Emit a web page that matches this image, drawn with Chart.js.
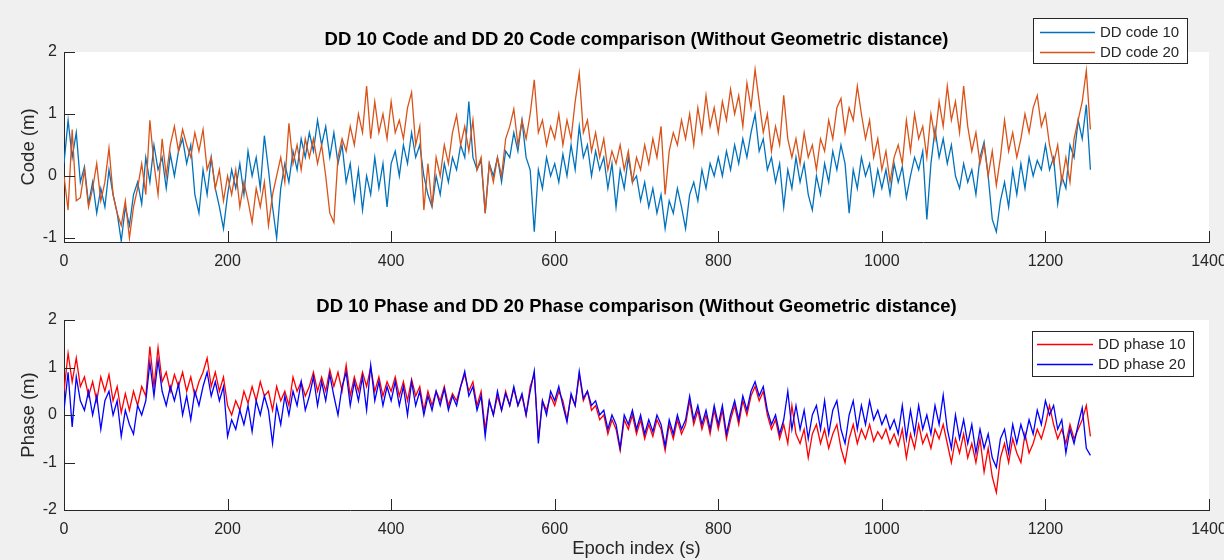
<!DOCTYPE html>
<html>
<head>
<meta charset="utf-8">
<script src="https://cdn.jsdelivr.net/npm/chart.js@4.4.1/dist/chart.umd.min.js"></script>
<style>
  html, body { margin: 0; padding: 0; background: #f0f0f0; }
  #wrap { position: relative; width: 1224px; height: 560px; overflow: hidden; }
  canvas { position: absolute; left: 0; }
  #codeChart { top: 0; }
  #phaseChart { top: 280px; }
</style>
</head>
<body>
<div id="wrap">
  <canvas id="codeChart" width="1224" height="280"></canvas>
  <canvas id="phaseChart" width="1224" height="280"></canvas>
</div>
<script>
// epoch spacing of the samples (s)
const STEP = 5;

// DD code 10 / DD code 20 (m), one value every STEP epochs
const code10 = [
  0.2, 0.9, 0.3, 0.7, -0.1, 0.15, -0.45, -0.1, -0.6, -0.2,
  -0.5, 0.1, -0.3, -0.6, -1.05, -0.5, -0.8, -0.3, -0.1, -0.45,
  0.3, -0.1, 0.5, 0.1, 0.3, -0.2, 0.35, 0.0, 0.4, 0.6,
  0.2, 0.5, -0.3, -0.6, 0.1, -0.3, 0.3, -0.2, -0.5, -0.85,
  -0.3, 0.1, -0.2, 0.2, -0.3, 0.4, 0.0, 0.3, -0.2, 0.65,
  0.1, -0.5, -1.0, -0.2, 0.2, -0.1, 0.4, 0.1, 0.6, 0.3,
  0.7, 0.4, 0.9, 0.5, 0.8, 0.3, 0.7, 0.2, 0.5, -0.1,
  0.2, -0.4, 0.1, -0.55, 0.0, -0.3, 0.3, -0.2, 0.2, -0.5,
  0.2, 0.4, 0.0, 0.5, 0.2, 0.7, 0.3, 0.5, 0.0, -0.3,
  -0.5, 0.0, -0.3, 0.2, -0.1, 0.3, 0.1, 0.5, 0.3, 1.2,
  0.3, 0.1, 0.25, -0.6, 0.2, 0.0, 0.3, -0.1, 0.4, 0.3,
  0.7, 0.4, 0.9, 0.3, 0.1, -0.9, 0.1, -0.2, 0.3, 0.0,
  0.2, -0.1, 0.35, 0.0, 0.5, 0.1, 0.8, 0.3, 0.5, 0.0,
  0.4, 0.1, 0.3, -0.2, 0.2, -0.5, 0.1, -0.2, 0.3, -0.1,
  0.0, -0.4, -0.1, -0.5, -0.2, -0.6, -0.3, -0.85, -0.4, -0.6,
  -0.2, -0.5, -0.85, -0.3, -0.1, -0.4, 0.1, -0.2, 0.2, 0.0,
  0.3, 0.0, 0.4, 0.1, 0.5, 0.2, 0.6, 0.3, 0.7, 1.0,
  0.4, 0.6, 0.1, 0.3, -0.1, 0.2, -0.5, 0.1, -0.2, 0.3,
  -0.1, 0.2, -0.3, -0.55, 0.0, -0.3, 0.2, -0.1, 0.4, 0.1,
  0.5, 0.2, -0.6, 0.1, -0.2, 0.3, 0.0, 0.2, -0.3, 0.1,
  -0.2, 0.1, -0.3, 0.2, -0.1, 0.15, -0.35, 0.0, 0.3, 0.1,
  0.4, -0.7, 0.2, 0.75, 0.3, 0.6, 0.2, 0.5, 0.0, -0.2,
  0.2, -0.1, 0.1, -0.3, 0.3, 0.55, 0.0, -0.7, -0.9, -0.4,
  -0.1, -0.5, 0.1, -0.3, 0.2, -0.2, 0.3, 0.0, 0.25, 0.1,
  0.5, 0.1, 0.3, -0.45, 0.0, -0.2, 0.5, 0.3, 0.9, 0.6,
  1.15, 0.1
];
const code20 = [
  0.0, -0.55, 0.75, -0.4, -0.35, 0.1, -0.5, -0.2, 0.2, -0.4,
  -0.1, 0.45, -0.3, -0.6, -0.8, -0.4, -1.0, -0.5, -0.2, 0.2,
  -0.3, 0.9, 0.2, -0.3, 0.6, 0.0, 0.5, 0.8, 0.4, 0.75,
  0.5, 0.3, 0.7, 0.4, 0.75, 0.1, 0.3, -0.2, 0.1, -0.4,
  0.0, -0.3, 0.1, -0.5, -0.1, -0.4, -0.75, -0.2, -0.5, -0.1,
  -0.8, -0.3, 0.0, 0.3, -0.1, 0.85, 0.2, 0.5, 0.1, 0.6,
  0.3, 0.6, 0.2, 0.5, 0.0, -0.6, -0.75, 0.3, 0.6, 0.4,
  0.8, 0.5, 1.0, 0.7, 1.45, 0.6, 1.2, 0.7, 1.0, 0.6,
  1.2, 0.7, 0.9, 0.6, 1.1, 1.35, 0.5, 0.8, -0.55, 0.2,
  -0.5, 0.3, 0.0, 0.5, 0.2, 0.7, 0.98, 0.5, 0.8, 0.4,
  0.9, 0.1, 0.3, -0.6, 0.2, -0.1, 0.3, 0.0, 0.6, 0.8,
  1.08, 0.5, 0.9, 0.6, 1.0, 1.55, 0.7, 0.9, 0.5, 0.8,
  0.6, 1.0, 0.5, 0.9, 0.6, 1.2, 1.66, 0.7, 0.9, 0.4,
  0.7, 0.3, 0.6, 0.1, 0.4, 0.2, 0.5, 0.1, 0.4, -0.1,
  0.3, 0.1, 0.5, 0.2, 0.6, 0.3, 0.8, -0.3, 0.4, 0.7,
  0.5, 0.9, 0.6, 1.0, 0.5, 1.1, 0.7, 1.3, 0.8, 1.1,
  0.7, 1.2, 0.9, 1.4, 1.0, 1.3, 0.8, 1.5, 1.1, 1.72,
  1.2, 0.7, 1.0, 0.4, 0.8, 0.5, 1.3, 0.6, 0.3, 0.6,
  0.2, 0.7, 0.3, 0.5, 0.1, 0.6, 0.4, 0.9, 0.6, 1.1,
  1.25, 0.7, 1.1, 0.9, 1.45, 1.0, 0.6, 0.9, 0.3, 0.6,
  0.1, 0.4, -0.1, 0.3, 0.5, 0.2, 0.9, 0.4, 1.0, 0.6,
  0.8, 0.3, 1.0, 0.6, 1.2, 0.8, 1.45, 0.9, 1.2, 0.7,
  1.45, 0.8, 0.4, 0.7, 0.2, 0.5, 0.0, 0.4, -0.15, 0.3,
  0.9, 0.4, 0.7, 0.3, 0.6, 1.0, 0.7, 1.1, 1.3, 0.8,
  1.0, 0.5, 0.2, 0.5, -0.1, 0.3, -0.1, 0.6, 0.9, 1.2,
  1.7, 0.75
];

// DD phase 10 / DD phase 20 (m)
const phase10 = [
  0.5, 1.3, 0.7, 1.2, 0.6, 0.8, 0.4, 0.7, 0.3, 0.8,
  0.5, 0.85, 0.3, 0.6, 0.05, 0.45, 0.1, 0.5, 0.2, 0.6,
  0.4, 1.44, 0.6, 1.42, 0.7, 0.9, 0.5, 0.85, 0.6, 0.9,
  0.5, 0.8, 0.4, 0.7, 0.9, 1.2, 0.6, 0.9, 0.5, 0.8,
  0.2, 0.0, 0.3, 0.1, 0.5, 0.25, 0.6, 0.3, 0.7, 0.4,
  0.5, 0.1, 0.6, 0.3, 0.5, 0.2, 0.8, 0.5, 0.7, 0.4,
  0.6, 0.9, 0.5, 0.8, 0.5, 0.95, 0.6, 0.9, 0.5, 1.05,
  0.4, 0.8, 0.5, 0.9, 0.6, 1.0, 0.5, 0.8, 0.4, 0.7,
  0.5, 0.8, 0.4, 0.7, 0.3, 0.75, 0.4, 0.6, 0.1, 0.5,
  0.2, 0.5, 0.3, 0.6, 0.2, 0.45, 0.3, 0.6, 0.85, 0.5,
  0.7, 0.2, 0.5, -0.3, 0.3, 0.0, 0.4, 0.1, 0.5, 0.2,
  0.55, 0.2, 0.4, 0.0, 0.6, 0.85, -0.5, 0.3, 0.1, 0.4,
  0.2, 0.5, 0.3, -0.1, 0.4, 0.2, 0.85, 0.3, 0.5, 0.1,
  0.2, -0.1, 0.0, -0.4, -0.1, -0.3, -0.75, -0.1, -0.3, 0.0,
  -0.4, -0.1, -0.5, -0.2, -0.45, -0.1, -0.3, -0.75, -0.2, -0.5,
  -0.1, -0.4, -0.2, 0.3, -0.2, 0.1, -0.3, 0.0, -0.4, 0.1,
  -0.3, 0.1, -0.5, -0.1, 0.2, -0.2, 0.3, 0.0, 0.4, 0.6,
  0.3, 0.5, 0.0, -0.3, -0.1, -0.5, -0.2, -0.6, 0.2, -0.4,
  -0.6, -0.3, -0.9, -0.4, -0.2, -0.6, -0.3, -0.7, -0.4, -0.2,
  -0.7, -1.0, -0.5, -0.2, -0.6, -0.3, -0.5, -0.2, -0.55, -0.35,
  -0.5, -0.3, -0.6, -0.4, -0.65, -0.3, -0.9, -0.4, -0.7, -0.2,
  -0.6, -0.4, -0.7, -0.3, -0.5, -0.2, -0.6, -1.0, -0.5, -0.8,
  -0.4, -0.9, -0.6, -1.0, -0.5, -1.2, -0.7, -1.3, -1.63, -0.9,
  -0.6, -1.0, -0.5, -0.8, -1.0, -0.4, -0.8, -0.6, -0.3, -0.5,
  -0.2, 0.2, -0.2, -0.5, -0.3, -0.6, -0.2, -0.5, -0.3, -0.1,
  0.2, -0.45
];
const phase20 = [
  0.1, 0.9, -0.25, 0.8, 0.3, 0.1, 0.5, 0.0, 0.4, -0.3,
  0.3, 0.5, 0.0, 0.3, -0.45, 0.1, -0.2, -0.4, 0.2, 0.0,
  0.3, 1.1, 0.4, 1.15, 0.5, 0.2, 0.6, 0.3, 0.65, 0.0,
  0.4, -0.1, 0.5, 0.2, 0.6, 0.9, 0.4, 0.7, 0.3, 0.6,
  -0.45, -0.1, -0.3, 0.1, -0.2, 0.2, -0.35, 0.3, 0.0, 0.4,
  0.1, -0.6, 0.2, -0.2, 0.4, 0.0, 0.5, 0.2, 0.7, 0.1,
  0.4, 0.8, 0.2, 0.7, 0.3, 0.85, 0.4, 0.0, 0.6, 0.9,
  0.2, 0.7, 0.3, 0.8, 0.1, 1.05, 0.3, 0.7, 0.2, 0.6,
  0.3, 0.7, 0.2, 0.6, 0.0, 0.7, 0.2, 0.5, 0.0, 0.4,
  0.1, 0.5, 0.2, 0.55, 0.1, 0.4, 0.2, 0.6, 0.92, 0.4,
  0.6, 0.1, 0.4, -0.45, 0.3, 0.0, 0.5, 0.1, 0.45, 0.2,
  0.6, 0.2, 0.45, 0.0, 0.5, 0.93, -0.6, 0.3, 0.0, 0.5,
  0.3, 0.6, 0.2, -0.15, 0.45, 0.2, 0.92, 0.35, 0.5, 0.2,
  0.3, 0.0, 0.1, -0.3, 0.0, -0.2, -0.7, 0.0, -0.2, 0.1,
  -0.3, 0.0, -0.4, -0.1, -0.35, 0.0, -0.2, -0.65, -0.1, -0.4,
  0.0, -0.3, -0.1, 0.4, -0.1, 0.2, -0.2, 0.1, -0.3, 0.2,
  -0.2, 0.2, -0.4, 0.0, 0.3, -0.1, 0.4, 0.1, 0.5, 0.7,
  0.4, 0.6, 0.1, -0.2, 0.0, -0.4, -0.1, 0.5, -0.3, 0.2,
  -0.3, 0.1, -0.5, 0.0, 0.2, -0.3, 0.3, -0.4, 0.1, 0.3,
  -0.3, -0.6, 0.0, 0.3, -0.3, 0.2, -0.2, 0.3, -0.1, 0.1,
  -0.2, 0.0, -0.3, -0.1, -0.4, 0.2, -0.5, 0.1, -0.4, 0.2,
  -0.3, 0.0, -0.4, 0.2, -0.2, 0.42, -0.3, -0.7, 0.0, -0.5,
  -0.1, -0.6, -0.2, -0.8, -0.3, -0.7, -0.4, -0.9, -1.1, -0.5,
  -0.3, -0.8, -0.2, -0.6, -0.2, -0.5, -0.1, -0.4, 0.1, -0.2,
  0.3, 0.0, 0.2, -0.3, -0.1, -0.8, -0.3, -0.6, -0.2, 0.15,
  -0.7, -0.85
];

const xTicks = [0, 200, 400, 600, 800, 1000, 1200, 1400];
const codeTicks = [-1, 0, 1, 2];
const phaseTicks = [-2, -1, 0, 1, 2];

const FONT = "'Liberation Sans', Arial, Helvetica, sans-serif";
const AXIS = '#262626';
const TEXT = '#262626';

const toPoints = arr => arr.map((v, i) => ({ x: i * STEP, y: v }));

// grey figure background + white axes area
const axesBg = {
  id: 'axesBg',
  beforeDraw(chart) {
    const { ctx, chartArea: a } = chart;
    ctx.save();
    ctx.fillStyle = '#f0f0f0';
    ctx.fillRect(0, 0, chart.width, chart.height);
    ctx.fillStyle = '#ffffff';
    ctx.fillRect(a.left, a.top, a.right - a.left, a.bottom - a.top);
    ctx.restore();
  }
};

// title centred over the axes (not over the whole canvas)
const axesTitle = {
  id: 'axesTitle',
  afterDraw(chart, args, opts) {
    const { ctx, chartArea: a } = chart;
    ctx.save();
    ctx.font = 'bold 18.5px ' + FONT;
    ctx.fillStyle = '#000000';
    ctx.textAlign = 'center';
    ctx.textBaseline = 'middle';
    ctx.fillText(opts.text, (a.left + a.right) / 2, opts.y);
    ctx.restore();
  }
};

// matlab style tick marks pointing into the axes
const innerTicks = {
  id: 'innerTicks',
  afterDraw(chart) {
    const { ctx, chartArea: a, scales } = chart;
    const len = 11;
    ctx.save();
    ctx.strokeStyle = AXIS;
    ctx.lineWidth = 1;
    ctx.beginPath();
    scales.x.ticks.forEach(t => {
      const px = Math.round(scales.x.getPixelForValue(t.value)) + 0.5;
      ctx.moveTo(px, a.bottom);
      ctx.lineTo(px, a.bottom - len);
    });
    scales.y.ticks.forEach(t => {
      const py = Math.round(scales.y.getPixelForValue(t.value)) + 0.5;
      ctx.moveTo(a.left, py);
      ctx.lineTo(a.left + len, py);
    });
    ctx.stroke();
    ctx.restore();
  }
};

// boxed legend at a fixed spot like the matlab one
const boxLegend = {
  id: 'boxLegend',
  afterDraw(chart, args, opts) {
    const { ctx } = chart;
    ctx.save();
    ctx.fillStyle = '#ffffff';
    ctx.fillRect(opts.x, opts.y, opts.w, opts.h);
    ctx.strokeStyle = AXIS;
    ctx.lineWidth = 1;
    ctx.strokeRect(opts.x + 0.5, opts.y + 0.5, opts.w, opts.h);
    ctx.font = '15px ' + FONT;
    ctx.textBaseline = 'middle';
    ctx.textAlign = 'left';
    chart.data.datasets.forEach((ds, i) => {
      const cy = opts.y + opts.first + i * opts.row + 0.5;
      ctx.strokeStyle = ds.borderColor;
      ctx.lineWidth = 1.3;
      ctx.beginPath();
      ctx.moveTo(opts.x + opts.pad, cy);
      ctx.lineTo(opts.x + opts.pad + opts.lineLen, cy);
      ctx.stroke();
      ctx.fillStyle = TEXT;
      ctx.fillText(ds.label, opts.x + opts.pad + opts.lineLen + 5, cy);
    });
    ctx.restore();
  }
};

function makeChart(id, cfg) {
  const ctx = document.getElementById(id).getContext('2d');
  return new Chart(ctx, {
    type: 'line',
    data: {
      datasets: [
        {
          label: cfg.labels[0],
          data: toPoints(cfg.series[0]),
          borderColor: cfg.colors[0],
          borderWidth: 1.3,
          pointRadius: 0,
          tension: 0,
          order: 1
        },
        {
          label: cfg.labels[1],
          data: toPoints(cfg.series[1]),
          borderColor: cfg.colors[1],
          borderWidth: 1.3,
          pointRadius: 0,
          tension: 0,
          order: 0
        }
      ]
    },
    options: {
      responsive: false,
      animation: false,
      layout: { padding: { left: 0, right: 15, top: cfg.top, bottom: 0 } },
      plugins: {
        legend: { display: false },
        tooltip: { enabled: false },
        title: { display: false },
        axesTitle: { text: cfg.title, y: cfg.titleY },
        boxLegend: cfg.legend
      },
      scales: {
        x: {
          type: 'linear',
          min: 0,
          max: 1400,
          afterBuildTicks: s => { s.ticks = xTicks.map(v => ({ value: v })); },
          afterFit: s => { s.height = cfg.xHeight; s.paddingLeft = 0; s.paddingRight = 0; },
          grid: { display: false, drawTicks: false },
          border: { display: true, color: AXIS, width: 1 },
          ticks: {
            color: TEXT,
            font: { family: FONT, size: 16 },
            padding: 10,
            maxRotation: 0,
            callback: v => String(v)
          },
          title: {
            display: !!cfg.xTitle,
            text: cfg.xTitle || '',
            color: TEXT,
            font: { family: FONT, size: 18.5 },
            padding: { top: 0, bottom: 0 }
          }
        },
        y: {
          min: cfg.yMin,
          max: cfg.yMax,
          afterBuildTicks: s => { s.ticks = cfg.yTicks.map(v => ({ value: v })); },
          afterFit: s => { s.width = 64; },
          grid: { display: false, drawTicks: false },
          border: { display: true, color: AXIS, width: 1 },
          ticks: { color: TEXT, font: { family: FONT, size: 16 }, padding: 7, callback: v => String(v) },
          title: {
            display: true,
            text: cfg.yTitle,
            color: TEXT,
            font: { family: FONT, size: 18.5 },
            padding: { top: 18, bottom: 0 }
          }
        }
      }
    },
    plugins: [axesBg, innerTicks, axesTitle, boxLegend]
  });
}

makeChart('codeChart', {
  title: 'DD 10 Code and DD 20 Code comparison (Without Geometric distance)',
  titleY: 40,
  top: 52,
  labels: ['DD code 10', 'DD code 20'],
  series: [code10, code20],
  colors: ['#0072BD', '#D95319'],
  yMin: -1.065,
  yMax: 2,
  yTicks: codeTicks,
  yTitle: 'Code (m)',
  xHeight: 38,
  legend: { x: 1033, y: 18, w: 154, h: 45, first: 14, row: 20, pad: 7, lineLen: 55 }
});

makeChart('phaseChart', {
  title: 'DD 10 Phase and DD 20 Phase comparison (Without Geometric distance)',
  titleY: 27,
  top: 40,
  labels: ['DD phase 10', 'DD phase 20'],
  series: [phase10, phase20],
  colors: ['#FF0000', '#0000FF'],
  yMin: -2,
  yMax: 2,
  yTicks: phaseTicks,
  yTitle: 'Phase (m)',
  xTitle: 'Epoch index (s)',
  xHeight: 50,
  legend: { x: 1032, y: 51, w: 161, h: 45, first: 13, row: 20, pad: 5, lineLen: 56 }
});
</script>
</body>
</html>
